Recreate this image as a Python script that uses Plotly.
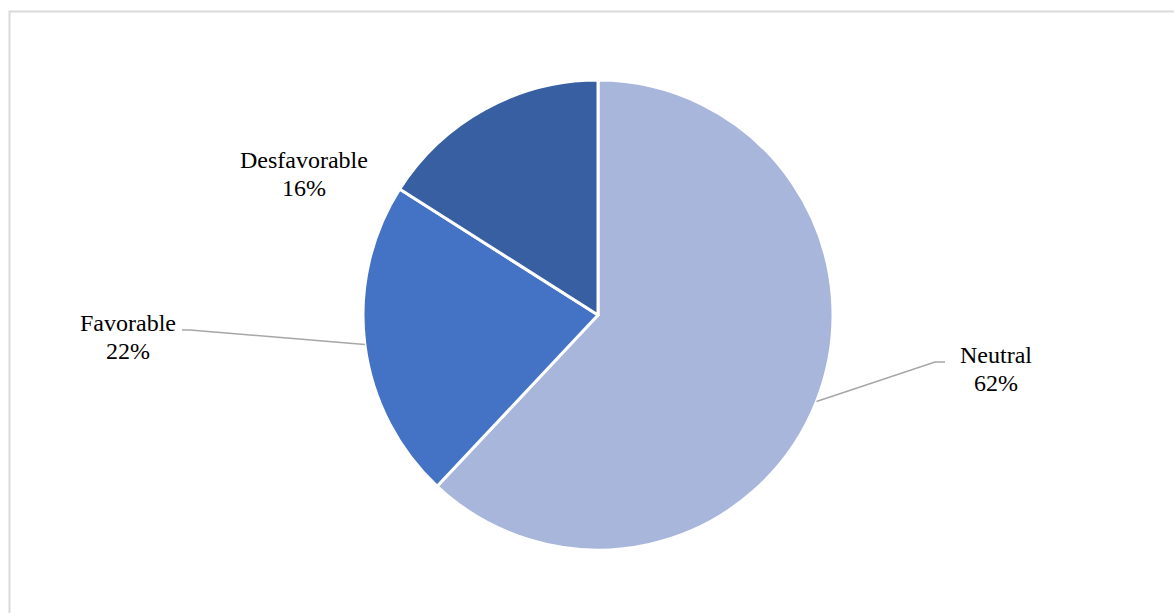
import math
import plotly.graph_objects as go

# Survey response shares
categories = ["Neutral", "Favorable", "Desfavorable"]
values = [62, 22, 16]
colors = ["#A9B6DB", "#4472C4", "#375FA1"]

W, H = 1174, 613
CX, CY, R = 598, 315, 235  # pie centre and radius in pixels


def px_x(x):
    return x / W


def px_y(y):
    return 1 - y / H


fig = go.Figure(
    go.Pie(
        labels=categories,
        values=values,
        sort=False,
        direction="clockwise",
        rotation=0,
        marker=dict(colors=colors, line=dict(color="white", width=3)),
        textinfo="none",
        hoverinfo="label+percent",
        domain=dict(x=[px_x(CX - R), px_x(CX + R)], y=[px_y(CY + R), px_y(CY - R)]),
        showlegend=False,
    )
)

# label text centres (pixels) and whether a leader line is drawn
label_pos = {
    "Neutral": (996, 355, True),
    "Favorable": (128, 323, True),
    "Desfavorable": (304, 160, False),
}

total = sum(values)
shapes = []
annotations = []
start = 0.0
for name, v in zip(categories, values):
    frac = v / total
    mid = (start + frac / 2) * 2 * math.pi
    start += frac
    ex = CX + R * math.sin(mid)
    ey = CY - R * math.cos(mid)
    lx, ly, leader = label_pos[name]
    pct = f"{round(frac * 100)}%"
    font = dict(family="Liberation Serif", size=24, color="#000000")
    annotations.append(dict(x=px_x(lx), y=px_y(ly), xref="paper", yref="paper",
                            text=name, showarrow=False, font=font,
                            xanchor="center", yanchor="middle"))
    annotations.append(dict(x=px_x(lx), y=px_y(ly + 28), xref="paper", yref="paper",
                            text=pct, showarrow=False, font=font,
                            xanchor="center", yanchor="middle"))
    if leader:
        if ex > lx:
            # label sits left of the pie
            hx = lx + 54
            kx = hx + 8
        else:
            hx = lx - 51
            kx = hx - 10
        hy = ly + 7
        path = (f"M {px_x(ex)},{px_y(ey)} L {px_x(kx)},{px_y(hy)} "
                f"L {px_x(hx)},{px_y(hy)}")
        shapes.append(dict(type="path", path=path, xref="paper", yref="paper",
                           line=dict(color="#A6A6A6", width=1.5)))

# outer chart frame
shapes.append(dict(type="rect", xref="paper", yref="paper",
                   x0=px_x(9.5), x1=1.02, y0=-0.02, y1=px_y(11.5),
                   line=dict(color="#D9D9D9", width=2), fillcolor="rgba(0,0,0,0)",
                   layer="below"))

fig.update_layout(
    width=W,
    height=H,
    margin=dict(l=0, r=0, t=0, b=0),
    paper_bgcolor="white",
    plot_bgcolor="white",
    shapes=shapes,
    annotations=annotations,
)

fig.write_html("out.html")
